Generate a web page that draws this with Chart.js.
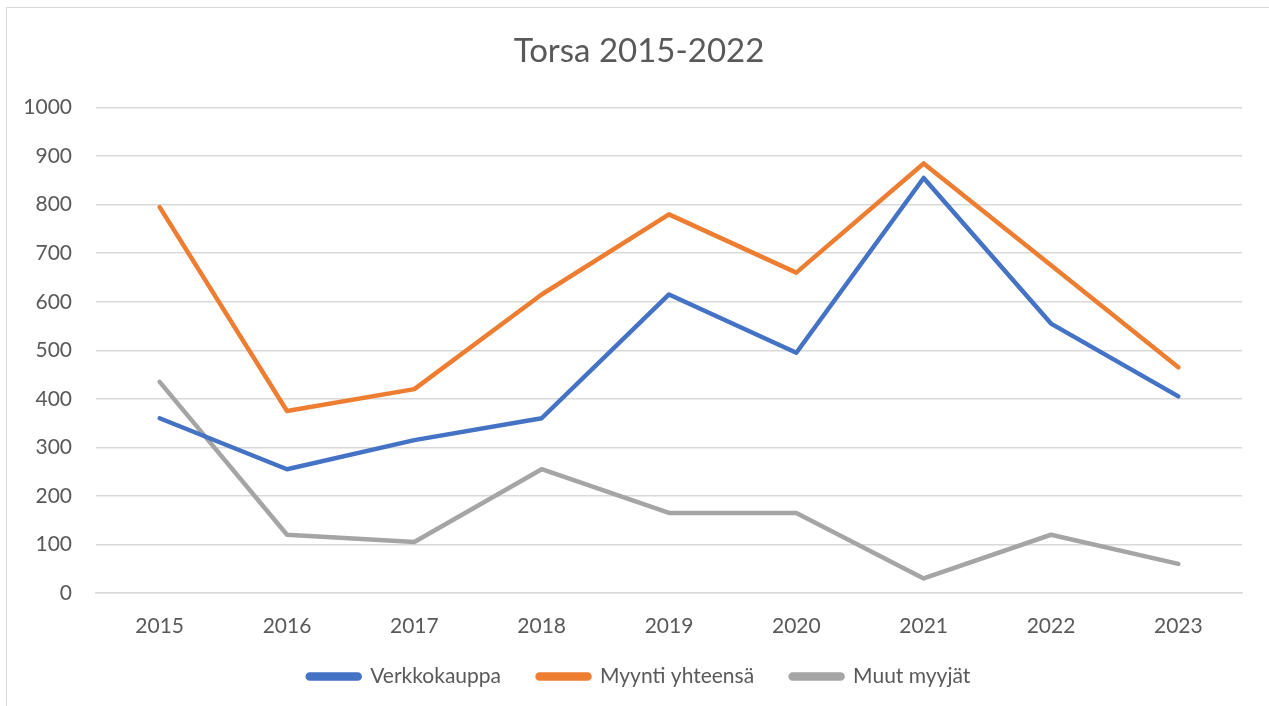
<!DOCTYPE html>
<html>
<head>
<meta charset="utf-8">
<script src="https://cdn.jsdelivr.net/npm/chart.js@4"></script>
<style>
  html, body { margin: 0; padding: 0; background: #fff; overflow: hidden; }
  #frame { position: absolute; left: 6px; top: 7px; width: 1300px; height: 800px; border: 1.5px solid #d9d9d9; }
  #wrap { position: absolute; left: 0; top: 0; width: 1269px; height: 706px; }
</style>
</head>
<body>
<div id="frame"></div>
<div id="wrap"><canvas id="torsa"></canvas></div>
<script>
// data
let years = ["2015", "2016", "2017", "2018", "2019", "2020", "2021", "2022", "2023"]
let verkkokauppa = [360, 255, 315, 360, 615, 495, 855, 555, 405]
let myyntiYhteensa = [795, 375, 420, 615, 780, 660, 885, 675, 465]
let muutMyyjat = [435, 120, 105, 255, 165, 165, 30, 120, 60]

let labelNames = ["Verkkokauppa", "Myynti yhteensä", "Muut myyjät"]
let lineColors = ["#4472C4", "#ED7D31", "#A5A5A5"]
let textColor = "#595959"
let gridColor = "#d9d9d9"

const mkSet = (i, data) => ({
    label: labelNames[i],
    data: data,
    borderColor: lineColors[i],
    backgroundColor: lineColors[i],
    borderWidth: 4.5,
    borderCapStyle: "round",
    borderJoinStyle: "round",
    pointRadius: 0,
    tension: 0
})

Chart.defaults.font.family = "Lato, 'Open Sans', sans-serif"
Chart.defaults.color = textColor

// default legend items, with some trailing space so the entries sit further apart
const legendItems = (chart) => {
    let items = Chart.defaults.plugins.legend.labels.generateLabels(chart)
    items.forEach((it, i) => {
        if (i < items.length - 1) it.text = it.text + "\u2003  "
    })
    return items
}

new Chart("torsa", {
    type: "line",
    data: {
        labels: years,
        datasets: [
            mkSet(0, verkkokauppa),
            mkSet(1, myyntiYhteensa),
            mkSet(2, muutMyyjat)
        ]
    },
    options: {
        responsive: true,
        maintainAspectRatio: false,
        animation: false,
        layout: { padding: { left: 9, right: 0, top: 0, bottom: 9 } },
        plugins: {
            title: {
                display: true,
                text: "Torsa 2015-2022",
                color: textColor,
                font: { size: 33, weight: "normal" },
                padding: { top: 32, bottom: 36 }
            },
            legend: {
                position: "bottom",
                labels: {
                    color: textColor,
                    font: { size: 21 },
                    boxWidth: 52,
                    boxHeight: 4,
                    padding: 10,
                    useBorderRadius: true,
                    borderRadius: 2,
                    generateLabels: legendItems
                }
            },
            tooltip: { enabled: false }
        },
        scales: {
            x: {
                offset: true,
                grid: { display: false, drawTicks: false },
                border: { display: true, color: gridColor, width: 1.5 },
                ticks: { color: textColor, font: { size: 21 }, padding: 21, maxRotation: 0 },
                afterFit: (s) => { s.height = 63 }
            },
            y: {
                min: 0,
                max: 1000,
                grid: { color: gridColor, lineWidth: 1.5, drawTicks: false },
                border: { display: false },
                ticks: {
                    stepSize: 100, color: textColor, font: { size: 21 }, padding: 24,
                    callback: (v) => String(v)
                },
                afterFit: (s) => { s.width = 87 }
            },
            // empty right-hand axis, only keeps the plot clear of the right edge
            yRight: {
                position: "right",
                display: true,
                grid: { display: false, drawTicks: false },
                border: { display: false },
                ticks: { display: false },
                afterFit: (s) => { s.width = 27 }
            }
        }
    }
})
</script>
</body>
</html>
